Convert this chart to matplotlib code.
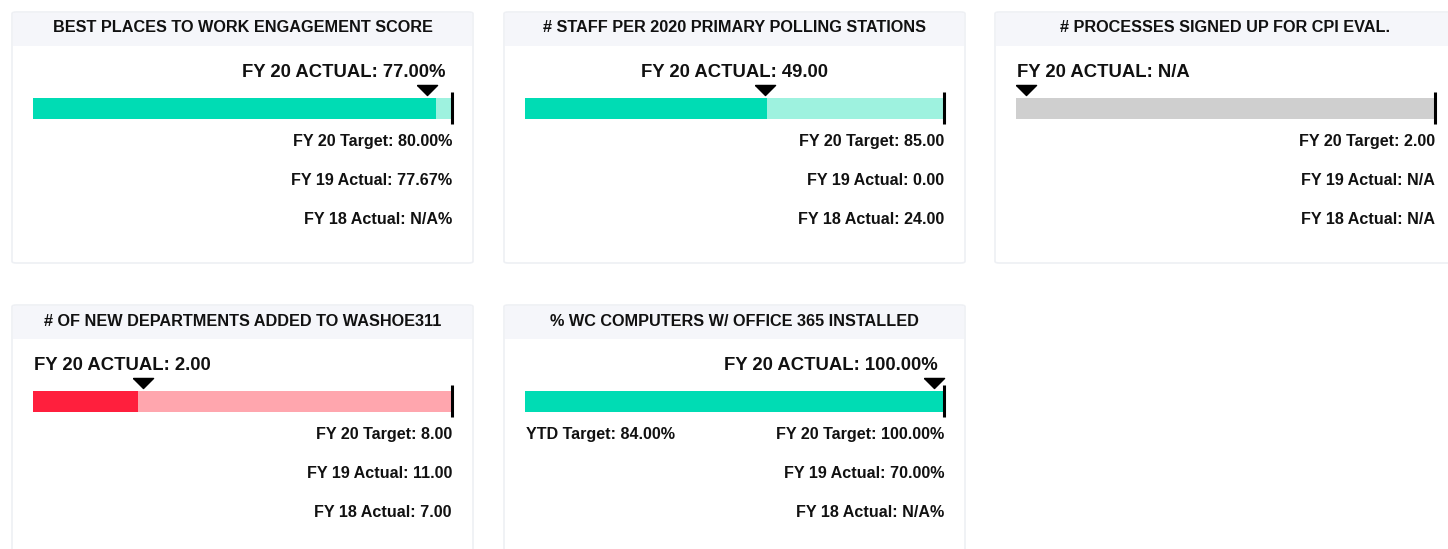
import matplotlib.pyplot as plt
from matplotlib.patches import FancyBboxPatch, Rectangle
from matplotlib.path import Path

plt.rcParams['font.family'] = ['Liberation Sans', 'DejaVu Sans']

# KPI data
titles = ['BEST PLACES TO WORK ENGAGEMENT SCORE',
          '# STAFF PER 2020 PRIMARY POLLING STATIONS',
          '# PROCESSES SIGNED UP FOR CPI EVAL.',
          '# OF NEW DEPARTMENTS ADDED TO WASHOE311',
          '% WC COMPUTERS W/ OFFICE 365 INSTALLED']
actual = [77.0, 49.0, None, 2.0, 100.0]
target = [80.0, 85.0, 2.0, 8.0, 100.0]
fy19 = ['77.67%', '0.00', 'N/A', '11.00', '70.00%']
fy18 = ['N/A%', '24.00', 'N/A', '7.00', 'N/A%']
units = ['%', '', '', '', '%']
ytd_target = [None, None, None, None, '84.00%']
status = ['good', 'good', 'none', 'bad', 'good']

colors = {'good': ('#00dcb4', '#9ef2df'),
          'bad': ('#ff1f3d', '#ffa6ae'),
          'none': ('#cfcfcf', '#cfcfcf')}

W, H = 1448, 549
fig = plt.figure(figsize=(W / 100, H / 100), dpi=100)

# panel top-left corners in pixels
panel_pos = [(12, 12), (504, 12), (995, 12), (12, 305), (504, 305)]
PW, PH = 461, 251


def fx(x):
    return x / W


def fy(y):
    return 1 - y / H


for i, (x0, y0) in enumerate(panel_pos):
    # card background + header
    card = FancyBboxPatch((fx(x0), fy(y0 + PH)), PW / W, PH / H,
                          boxstyle='round,pad=0,rounding_size=0.003',
                          transform=fig.transFigure, facecolor='white',
                          edgecolor='#eef0f4', linewidth=1.2, zorder=-2)
    fig.patches.append(card)
    head = Rectangle((fx(x0 + 1), fy(y0 + 34)), (PW - 2) / W, 33 / H,
                     transform=fig.transFigure, facecolor='#f5f6fa',
                     edgecolor='none', zorder=-1)
    fig.patches.append(head)
    fig.text(fx(x0 + PW / 2), fy(y0 + 20.5), titles[i], ha='center', va='baseline',
             fontsize=11.7, fontweight='bold', color='#111111')

    # bullet bar
    bx, by, bw, bh = x0 + 21, y0 + 86, 419, 21
    ax = fig.add_axes([fx(bx), fy(by + bh), bw / W, bh / H])
    ax.set_xlim(0, target[i])
    ax.set_ylim(0, 1)
    ax.axis('off')
    dark, light = colors[status[i]]
    ax.barh(0.5, target[i], height=1, color=light, linewidth=0)
    val = actual[i] if actual[i] is not None else 0
    ax.barh(0.5, val, height=1, color=dark, linewidth=0)
    ax.plot([target[i], target[i]], [-5 / bh, 1 + 6 / bh], color='black',
            linewidth=2.2, solid_capstyle='butt', clip_on=False)

    frac = val / target[i]
    mx = target[i] * (10 + frac * (bw - 20)) / bw
    tri = Path([(-1, 0.5), (1, 0.5), (0, -0.5), (-1, 0.5)])
    ax.plot([mx], [1 + 8 / bh], marker=tri, markersize=14.5, color='black',
            linestyle='none', clip_on=False)

    # actual label
    if actual[i] is None:
        lab = 'FY 20 ACTUAL: N/A'
    else:
        lab = f'FY 20 ACTUAL: {actual[i]:.2f}{units[i]}'
    if frac < 1 / 3:
        tx, ha = bx + 1, 'left'
    elif frac < 2 / 3:
        tx, ha = x0 + PW / 2, 'center'
    else:
        tx, ha = bx + bw - 6, 'right'
    fig.text(fx(tx), fy(y0 + 65), lab, ha=ha, va='baseline',
             fontsize=13.3, fontweight='bold', color='#111111')

    # stats
    rx = bx + bw
    fs = 11.6
    fig.text(fx(rx), fy(y0 + 134), f'FY 20 Target: {target[i]:.2f}{units[i]}',
             ha='right', va='baseline', fontsize=fs, fontweight='bold', color='#111111')
    fig.text(fx(rx), fy(y0 + 173), f'FY 19 Actual: {fy19[i]}',
             ha='right', va='baseline', fontsize=fs, fontweight='bold', color='#111111')
    fig.text(fx(rx), fy(y0 + 212), f'FY 18 Actual: {fy18[i]}',
             ha='right', va='baseline', fontsize=fs, fontweight='bold', color='#111111')
    if ytd_target[i]:
        fig.text(fx(bx + 1), fy(y0 + 134), f'YTD Target: {ytd_target[i]}',
                 ha='left', va='baseline', fontsize=fs, fontweight='bold', color='#111111')

fig.savefig('out.png', dpi=100)
